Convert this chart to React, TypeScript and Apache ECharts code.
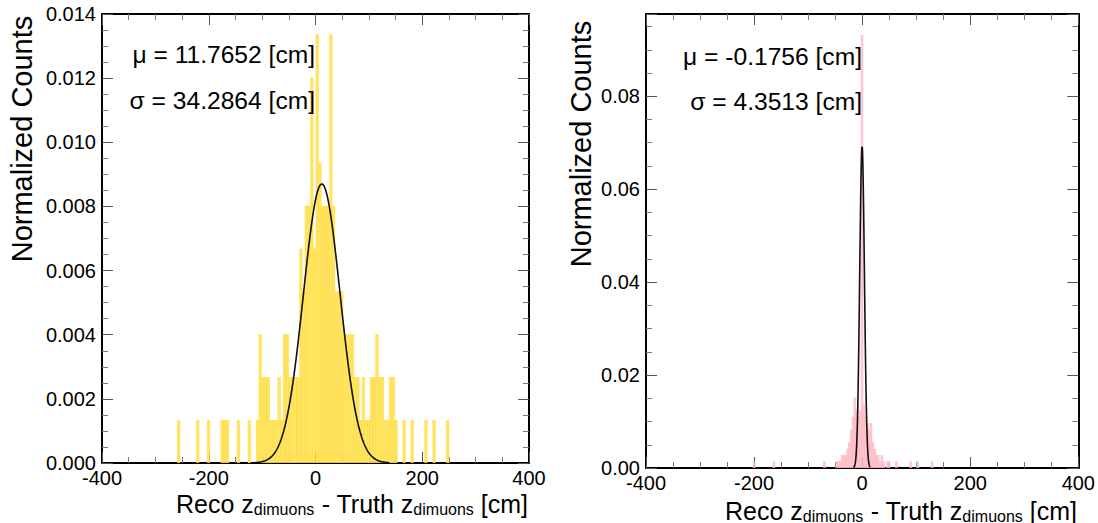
import React, { useEffect, useRef } from "react";
import * as echarts from "echarts";

// ---- Left panel: wide resolution histogram (counts per bin) ----
const LEFT_BIN_START = -258.9;
const LEFT_BIN_WIDTH = 5.09;
const LEFT_UNIT = 0.001335; // normalized height of a single entry
const LEFT_COUNTS = [
  1, 0, 0, 0, 0, 0, 0, 1, 0, 0,
  0, 1, 0, 0, 0, 0, 1, 1, 1, 0,
  0, 0, 1, 0, 0, 0, 1, 0, 0, 1,
  3, 2, 2, 2, 1, 1, 1, 2, 1, 3,
  3, 2, 2, 2, 2, 5, 4, 6, 6, 9,
  5, 10, 7, 6, 6, 6, 10, 6, 4, 4,
  4, 3, 3, 3, 3, 2, 2, 1, 2, 1,
  1, 2, 2, 3, 2, 2, 1, 1, 2, 2,
  1, 0, 0, 1, 0, 0, 1, 0, 0, 0,
  0, 1, 0, 0, 1, 0, 0, 0, 0, 1,
];
const LEFT_FIT = { mu: 11.7652, sigma: 34.2864, amp: 0.0087 };

// ---- Right panel: narrow resolution histogram ----
const RIGHT_BIN_START = -201.7;
const RIGHT_BIN_WIDTH = 3.33;
const RIGHT_UNIT = 0.00137;
const RIGHT_COUNTS = [
  1, 0, 0, 0, 0, 0, 0, 0, 0, 0,
  0, 1, 0, 0, 0, 0, 0, 0, 0, 0,
  0, 0, 0, 0, 0, 0, 0, 0, 0, 0,
  0, 0, 0, 0, 0, 0, 0, 0, 0, 1,
  0, 0, 0, 0, 0, 0, 1, 1, 1, 2,
  2, 2, 3, 4, 6, 8, 11, 9, 8, 9,
  68, 10, 8, 7, 6, 7, 4, 3, 2, 2,
  1, 2, 1, 0, 1, 1, 0, 0, 0, 1,
  0, 0, 0, 0, 0, 0, 0, 1, 0, 0,
  0, 1, 0, 0, 0, 0, 0, 0, 0, 1,
];
const RIGHT_FIT = { mu: -0.1756, sigma: 4.3513, amp: 0.0692 };

const X_RANGE = [-400, 400];
const X_STEP = 200;
const LEFT_Y = { max: 0.014, step: 0.002, digits: 3 };
const RIGHT_Y = { max: 0.0977, step: 0.02, digits: 2 };

const LEFT_LABELS = ["\u03bc = 11.7652 [cm]", "\u03c3 = 34.2864 [cm]"];
const RIGHT_LABELS = ["\u03bc = -0.1756 [cm]", "\u03c3 = 4.3513 [cm]"];
const Y_TITLE = "Normalized Counts";

const FONT = "'Liberation Sans', Arial, Helvetica, sans-serif";

function toBars(counts: number[], start: number, width: number, unit: number) {
  const out: number[][] = [];
  counts.forEach((c, i) => {
    if (c > 0) out.push([start + i * width, start + (i + 1) * width, c * unit]);
  });
  return out;
}

function gaussCurve(fit: { mu: number; sigma: number; amp: number }) {
  const pts: number[][] = [];
  const lo = fit.mu - 3.7 * fit.sigma;
  const hi = fit.mu + 3.7 * fit.sigma;
  const n = 600;
  for (let i = 0; i <= n; i++) {
    const x = lo + ((hi - lo) * i) / n;
    const z = (x - fit.mu) / fit.sigma;
    pts.push([x, fit.amp * Math.exp(-0.5 * z * z)]);
  }
  return pts;
}

function xAxes(gridIndex: number) {
  const base = {
    type: "value" as const,
    gridIndex,
    min: X_RANGE[0],
    max: X_RANGE[1],
    interval: X_STEP,
    splitLine: { show: false },
    axisLine: { show: true, onZero: false, lineStyle: { color: "#000", width: 2 } },
    axisTick: { show: true, inside: true, length: 11, lineStyle: { color: "#555", width: 1 } },
    minorTick: { show: true, splitNumber: 4, length: 6, lineStyle: { color: "#777", width: 1 } },
  };
  return [
    {
      ...base,
      position: "bottom",
      axisLabel: { show: true, margin: 5, fontSize: 20, color: "#000", fontFamily: FONT },
    },
    { ...base, position: "top", axisLabel: { show: false } },
  ];
}

function yAxes(gridIndex: number, cfg: { max: number; step: number; digits: number }) {
  const base = {
    type: "value" as const,
    gridIndex,
    min: 0,
    max: cfg.max,
    interval: cfg.step,
    splitLine: { show: false },
    axisLine: { show: true, onZero: false, lineStyle: { color: "#000", width: 2 } },
    axisTick: { show: true, inside: true, length: 11, lineStyle: { color: "#555", width: 1 } },
    minorTick: { show: true, splitNumber: 4, length: 6, lineStyle: { color: "#777", width: 1 } },
  };
  return [
    {
      ...base,
      position: "left",
      axisLabel: {
        show: true,
        margin: 6,
        fontSize: 20,
        color: "#000",
        fontFamily: FONT,
        showMaxLabel: Math.abs(cfg.max / cfg.step - Math.round(cfg.max / cfg.step)) < 1e-6,
        formatter: (v: number) => v.toFixed(cfg.digits),
      },
    },
    { ...base, position: "right", axisLabel: { show: false } },
  ];
}

function histSeries(axisIndex: number, data: number[][], fill: string, stroke: string) {
  return {
    type: "custom" as const,
    xAxisIndex: axisIndex,
    yAxisIndex: axisIndex,
    clip: true,
    silent: true,
    data,
    encode: { x: [0, 1], y: 2 },
    renderItem: (_params: any, api: any) => {
      const a = api.coord([api.value(0), api.value(2)]);
      const b = api.coord([api.value(1), 0]);
      return {
        type: "rect",
        shape: { x: a[0], y: a[1], width: b[0] - a[0], height: b[1] - a[1] },
        style: { fill, stroke, lineWidth: 0.8 },
      };
    },
  };
}

function fitSeries(axisIndex: number, data: number[][]) {
  return {
    type: "line" as const,
    xAxisIndex: axisIndex,
    yAxisIndex: axisIndex,
    data,
    showSymbol: false,
    silent: true,
    clip: true,
    lineStyle: { color: "#111", width: 1.6 },
    z: 5,
  };
}

function xTitle(right: number, y: number) {
  return {
    type: "text",
    x: right,
    y,
    style: {
      text: "{m|Reco z}{s|dimuons}{m| - Truth z}{s|dimuons}{m| [cm]}",
      align: "right",
      verticalAlign: "middle",
      textAlign: "right",
      textVerticalAlign: "middle",
      rich: {
        m: { fontSize: 25, fontFamily: FONT, fill: "#000", lineHeight: 26, verticalAlign: "top" },
        s: { fontSize: 16, fontFamily: FONT, fill: "#000", lineHeight: 12, verticalAlign: "bottom" },
      },
    },
  };
}

function yTitle(x: number, y: number) {
  return {
    type: "text",
    x,
    y,
    rotation: Math.PI / 2,
    style: {
      text: Y_TITLE,
      fontSize: 29,
      fontFamily: FONT,
      fill: "#000",
      align: "center",
      verticalAlign: "middle",
      textAlign: "center",
      textVerticalAlign: "middle",
    },
  };
}

function note(text: string, x: number, y: number) {
  return {
    type: "text",
    x,
    y,
    z: 10,
    style: {
      text,
      fontSize: 24.6,
      fontFamily: FONT,
      fill: "#000",
      align: "right",
      verticalAlign: "middle",
      textAlign: "right",
      textVerticalAlign: "middle",
    },
  };
}

export default function App() {
  const ref = useRef<HTMLDivElement>(null);

  useEffect(() => {
    document.body.style.margin = "0";
    if (!ref.current) return;
    const chart = echarts.init(ref.current, undefined, { renderer: "svg" });

    const leftBars = toBars(LEFT_COUNTS, LEFT_BIN_START, LEFT_BIN_WIDTH, LEFT_UNIT);
    const rightBars = toBars(RIGHT_COUNTS, RIGHT_BIN_START, RIGHT_BIN_WIDTH, RIGHT_UNIT);

    const option: any = {
      animation: false,
      backgroundColor: "#fff",
      grid: [
        { left: 102, top: 14, width: 427, height: 449 },
        { left: 646, top: 14, width: 433, height: 454 },
      ],
      xAxis: [...xAxes(0), ...xAxes(1)],
      yAxis: [...yAxes(0, LEFT_Y), ...yAxes(1, RIGHT_Y)],
      series: [
        histSeries(0, leftBars, "rgba(255, 225, 80, 0.85)", "rgba(255, 212, 0, 0.4)"),
        fitSeries(0, gaussCurve(LEFT_FIT)),
        histSeries(2, rightBars, "rgba(255, 182, 193, 0.7)", "rgba(255, 182, 193, 0.8)"),
        fitSeries(2, gaussCurve(RIGHT_FIT)),
      ],
      graphic: [
        yTitle(22, 139),
        yTitle(581, 144),
        xTitle(528, 504),
        xTitle(1077, 511),
        note(LEFT_LABELS[0], 315, 54),
        note(LEFT_LABELS[1], 315, 100),
        note(RIGHT_LABELS[0], 862, 56),
        note(RIGHT_LABELS[1], 862, 101),
      ],
    };
    chart.setOption(option);
    return () => chart.dispose();
  }, []);

  return <div ref={ref} style={{ width: 1098, height: 523 }} />;
}
